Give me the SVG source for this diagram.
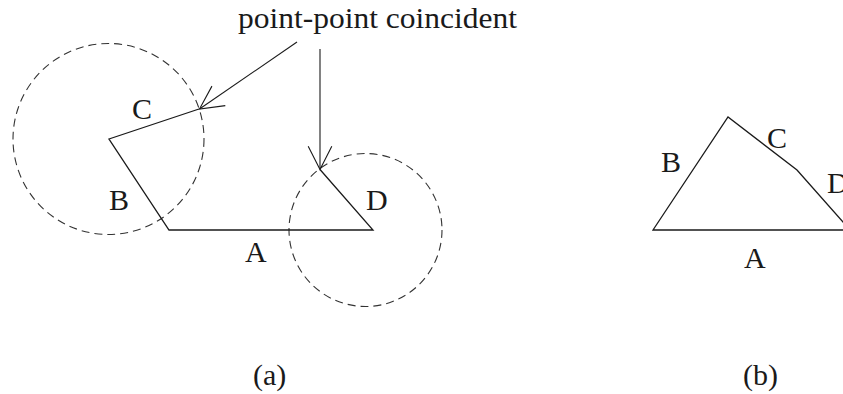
<svg xmlns="http://www.w3.org/2000/svg" width="843" height="394" viewBox="0 0 843 394">
<style>
.edge{fill:none;stroke:#1a1a1a;stroke-width:1.3;stroke-linejoin:miter}
.circ{fill:none;stroke:#333;stroke-width:1.1;stroke-dasharray:8 5}
.lbl{font-family:"Liberation Serif","Times New Roman",serif;font-size:30px;fill:#1a1a1a}
.arr{fill:none;stroke:#1a1a1a;stroke-width:1.1}
</style>
<defs>
<marker id="head" markerUnits="userSpaceOnUse" markerWidth="60" markerHeight="60" viewBox="-30 -30 60 60" refX="0" refY="0" orient="auto" overflow="visible">
<path d="M-23.2,-11.8 L0,0 L-23.2,11.8" fill="none" stroke="#1a1a1a" stroke-width="1.1"/>
</marker>
</defs>
<rect width="843" height="394" fill="#fff"/>
<g id="diagram-a">
<g id="circle-c"><circle class="circ" cx="108.5" cy="139" r="95.5"/></g>
<g id="circle-d"><circle class="circ" cx="365.5" cy="230" r="76.5"/></g>
<g id="polygon-a"><polyline class="edge" points="199,109 109,139 169,230 373,230 320,169.5"/></g>
<g id="labels-a">
<text class="lbl" x="132" y="119">C</text>
<text class="lbl" x="109" y="210">B</text>
<text class="lbl" x="366" y="210">D</text>
<text class="lbl" x="245" y="262">A</text>
</g>
<g id="note"><text class="lbl" x="238" y="28" textLength="279" lengthAdjust="spacingAndGlyphs">point-point coincident</text></g>
<g id="connectors">
<line class="arr" x1="297" y1="42" x2="199.5" y2="109" marker-end="url(#head)"/>
<line class="arr" x1="320" y1="49" x2="320" y2="169.5" marker-end="url(#head)"/>
</g>
<g id="caption-a"><text class="lbl" x="253" y="385">(a)</text></g>
</g>
<g id="diagram-b">
<g id="polygon-b"><polygon class="edge" points="653,230 728,117 797,170 850,230"/></g>
<g id="labels-b">
<text class="lbl" x="661" y="172">B</text>
<text class="lbl" x="767" y="148">C</text>
<text class="lbl" x="827" y="193">D</text>
<text class="lbl" x="744" y="268">A</text>
</g>
<g id="caption-b"><text class="lbl" x="743" y="385">(b)</text></g>
</g>
</svg>
